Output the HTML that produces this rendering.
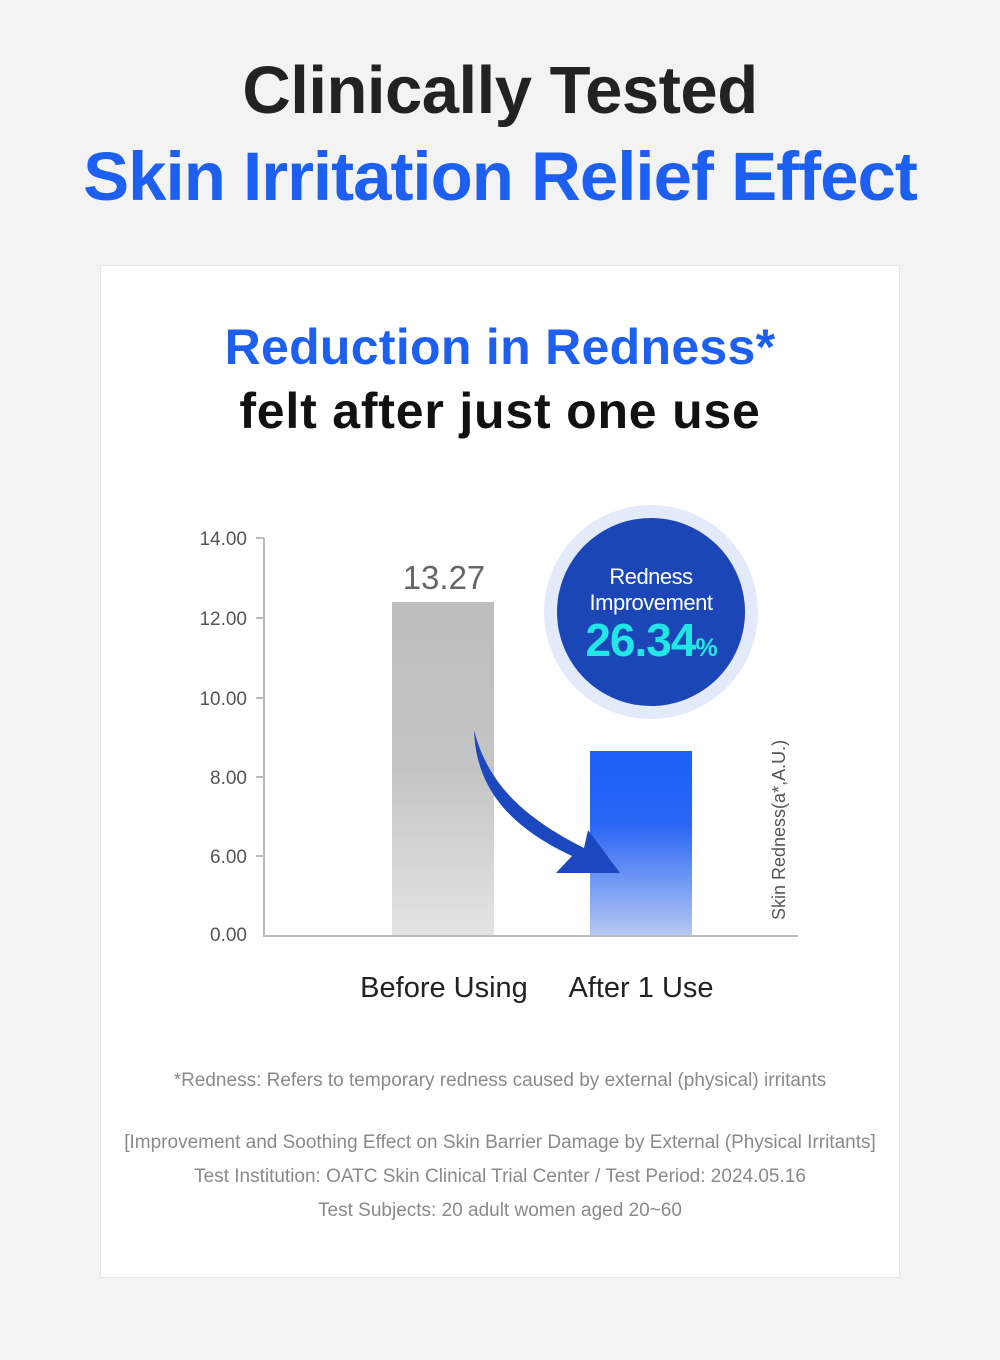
<!DOCTYPE html>
<html><head><meta charset="utf-8"><style>
body{margin:0;width:1000px;height:1360px;background:#f3f3f3;font-family:"Liberation Sans",sans-serif;position:relative;overflow:hidden}
.t{position:absolute;left:0;width:1000px;text-align:center;white-space:nowrap}
.card{position:absolute;left:100px;top:265px;width:800px;height:1013px;background:#fff;border:1px solid #e6e6e6;box-sizing:border-box}
</style></head><body>
<div class="t" style="top:52px;font-size:67px;font-weight:bold;color:#222;letter-spacing:-0.5px">Clinically Tested</div>
<div class="t" style="top:137px;font-size:69px;font-weight:bold;color:#1d5ff0;letter-spacing:-1px">Skin Irritation Relief Effect</div>
<div class="card"></div>
<div class="t" style="top:318px;font-size:50px;font-weight:bold;color:#1d5ff0;letter-spacing:0.3px">Reduction in Redness*</div>
<div class="t" style="top:382px;font-size:50px;font-weight:bold;color:#111;letter-spacing:0.8px">felt after just one use</div>
<svg style="position:absolute;left:0;top:0" width="1000" height="1360">
<defs>
<linearGradient id="g1" x1="0" y1="0" x2="0" y2="1"><stop offset="0" stop-color="#bdbdbd"/><stop offset="0.5" stop-color="#c4c4c4"/><stop offset="1" stop-color="#e4e4e4"/></linearGradient>
<linearGradient id="g2" x1="0" y1="0" x2="0" y2="1"><stop offset="0" stop-color="#1d5ff8"/><stop offset="0.4" stop-color="#2a66f5"/><stop offset="1" stop-color="#b5c8f2"/></linearGradient>
</defs>
<g stroke="#bbb" stroke-width="2" fill="none">
<path d="M264 538V936H798"/>
<path d="M256 538H264M256 618H264M256 698H264M256 777H264M256 856H264"/>
</g>
<g font-size="19" fill="#555" text-anchor="end">
<text x="247" y="545">14.00</text><text x="247" y="625">12.00</text><text x="247" y="705">10.00</text><text x="247" y="784">8.00</text><text x="247" y="863">6.00</text><text x="247" y="941">0.00</text>
</g>
<rect x="392" y="602" width="102" height="333" fill="url(#g1)"/>
<rect x="590" y="751" width="102" height="184" fill="url(#g2)"/>
<text x="444" y="589" font-size="33" fill="#666" text-anchor="middle">13.27</text>
<path d="M474 730 C476 790 512 828 572 856 L556 873 L620 873 L588 830 L584 848 C525 818 488 785 474 730Z" fill="#1b47bf"/>
<circle cx="651" cy="612" r="107" fill="#e3ebfb"/>
<circle cx="651" cy="612" r="94" fill="#1a46b8"/>
<text x="651" y="584" font-size="22" fill="#fff" text-anchor="middle" letter-spacing="-0.5">Redness</text>
<text x="651" y="610" font-size="22" fill="#fff" text-anchor="middle" letter-spacing="-0.5">Improvement</text>
<text x="651" y="656" font-size="46" font-weight="bold" fill="#22e6e6" text-anchor="middle" letter-spacing="-1">26.34<tspan font-size="25">%</tspan></text>
<text transform="translate(785,920) rotate(-90)" font-size="18" fill="#555">Skin Redness(a*,A.U.)</text>
<text x="444" y="997" font-size="29" fill="#222" text-anchor="middle">Before Using</text>
<text x="641" y="997" font-size="29" fill="#222" text-anchor="middle">After 1 Use</text>
<g font-size="19" fill="#8a8a8a" text-anchor="middle">
<text x="500" y="1086">*Redness: Refers to temporary redness caused by external (physical) irritants</text>
<text x="500" y="1148">[Improvement and Soothing Effect on Skin Barrier Damage by External (Physical Irritants]</text>
<text x="500" y="1182">Test Institution: OATC Skin Clinical Trial Center / Test Period: 2024.05.16</text>
<text x="500" y="1216">Test Subjects: 20 adult women aged 20~60</text>
</g>
</svg>
</body></html>
